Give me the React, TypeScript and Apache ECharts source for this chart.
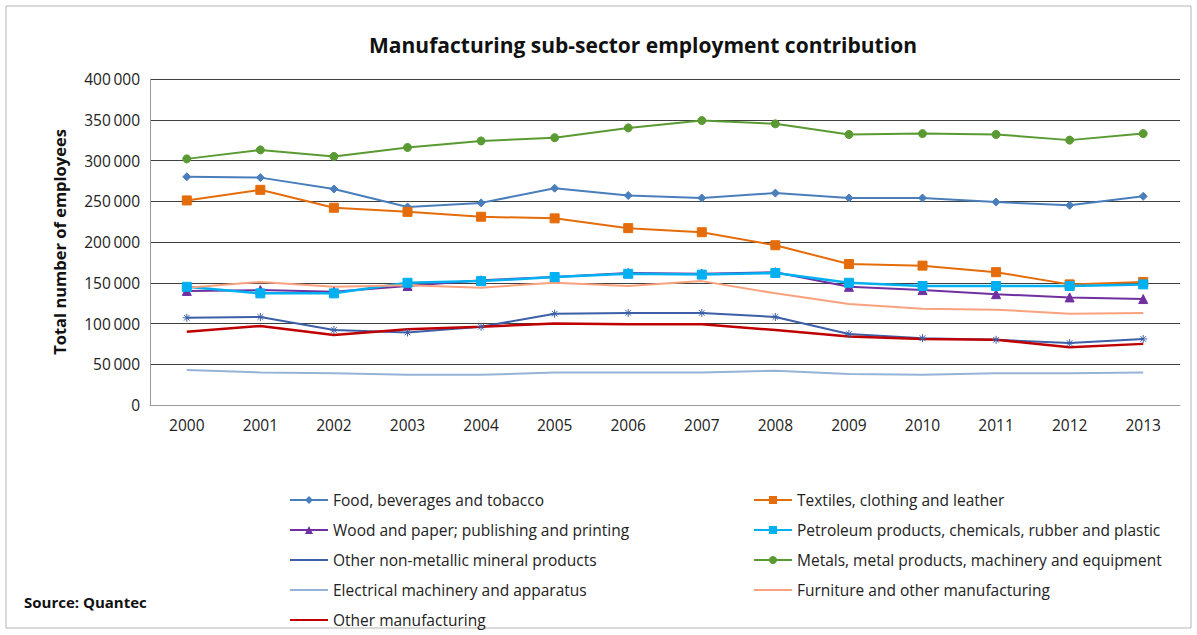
import React, { useEffect, useRef } from "react";
import * as echarts from "echarts";

const years = ["2000","2001","2002","2003","2004","2005","2006","2007","2008","2009","2010","2011","2012","2013"];
const yTicks = [0, 50000, 100000, 150000, 200000, 250000, 300000, 350000, 400000];

const food = [280000, 279000, 265000, 243000, 248000, 266000, 257000, 254000, 260000, 254000, 254000, 249000, 245000, 256000];
const textiles = [251000, 264000, 242000, 237000, 231000, 229000, 217000, 212000, 196000, 173000, 171000, 163000, 148000, 151000];
const wood = [140000, 141000, 139000, 146000, 153000, 157000, 162000, 161000, 163000, 145000, 141000, 136000, 132000, 130000];
const petroleum = [145000, 137000, 137000, 150000, 152000, 157000, 161000, 160000, 162000, 150000, 146000, 146000, 146000, 148000];
const nonMetallic = [107000, 108000, 92000, 89000, 96000, 112000, 113000, 113000, 108000, 87000, 82000, 80000, 76000, 81000];
const metals = [302000, 313000, 305000, 316000, 324000, 328000, 340000, 349000, 345000, 332000, 333000, 332000, 325000, 333000];
const electrical = [43000, 40000, 39000, 37000, 37000, 40000, 40000, 40000, 42000, 38000, 37000, 39000, 39000, 40000];
const furniture = [144000, 151000, 145000, 147000, 144000, 150000, 146000, 152000, 137000, 124000, 118000, 117000, 112000, 113000];
const otherMfg = [90000, 97000, 86000, 93000, 96000, 100000, 99000, 99000, 92000, 84000, 81000, 80000, 71000, 75000];

const names = {
  food: "Food, beverages and tobacco",
  textiles: "Textiles, clothing and leather",
  wood: "Wood and paper; publishing and printing",
  petroleum: "Petroleum products, chemicals, rubber and plastic",
  nonMetallic: "Other non-metallic mineral products",
  metals: "Metals, metal products, machinery and equipment",
  electrical: "Electrical machinery and apparatus",
  furniture: "Furniture and other manufacturing",
  otherMfg: "Other manufacturing",
};

const FONT = "'Open Sans', 'Noto Sans', sans-serif";

function fmt(v: number) {
  if (v === 0) return "0";
  const s = String(v);
  return s.slice(0, s.length - 3) + "\u2009" + s.slice(s.length - 3);
}

const starPath = "path://M0,-10 L0,10 M-10,0 L10,0 M-7,-7 L7,7 M-7,7 L7,-7";

export default function App() {
  const ref = useRef<HTMLDivElement>(null);
  useEffect(() => {
    const chart = echarts.init(ref.current!, null, { renderer: "svg" });
    const mk = (name: string, data: number[], color: string, symbol: string, size: number, width: number, show = true) => ({
      name,
      type: "line",
      data,
      symbol,
      symbolSize: size,
      showSymbol: show,
      lineStyle: { color, width },
      itemStyle: { color, borderColor: color },
      emphasis: { disabled: true },
    });
    const legendText = { fontFamily: FONT, fontSize: 15.5, color: "#222" };
    chart.setOption({
      animation: false,
      backgroundColor: "#ffffff",
      title: {
        text: "Manufacturing sub-sector employment contribution",
        left: 638,
        textAlign: "center",
        top: 29,
        textStyle: { fontFamily: FONT, fontSize: 21, fontWeight: "bold", color: "#111" },
      },
      grid: { left: 150, right: 17, top: 79, bottom: 230 },
      legend: [
        {
          left: 284,
          top: 487,
          orient: "vertical",
          itemGap: 14,
          itemWidth: 38,
          itemHeight: 10,
          textStyle: legendText,
          data: [names.food, names.wood, names.nonMetallic, names.electrical, names.otherMfg],
        },
        {
          left: 748,
          top: 487,
          orient: "vertical",
          itemGap: 14,
          itemWidth: 38,
          itemHeight: 10,
          textStyle: legendText,
          data: [names.textiles, names.petroleum, names.metals, names.furniture],
        },
      ],
      xAxis: {
        type: "category",
        data: years,
        boundaryGap: true,
        axisLine: { lineStyle: { color: "#9a9a9a" } },
        axisTick: { alignWithLabel: true, lineStyle: { color: "#9a9a9a" } },
        axisLabel: { fontFamily: FONT, fontSize: 15.5, color: "#222", margin: 12 },
      },
      yAxis: {
        type: "value",
        min: yTicks[0],
        max: yTicks[yTicks.length - 1],
        interval: 50000,
        name: "Total number of employees",
        nameLocation: "middle",
        nameGap: 82,
        nameRotate: 90,
        nameTextStyle: { fontFamily: FONT, fontSize: 16.5, fontWeight: "bold", color: "#111" },
        axisLine: { show: true, lineStyle: { color: "#9a9a9a" } },
        axisTick: { show: false },
        axisLabel: { fontFamily: FONT, fontSize: 15.5, color: "#222", margin: 10, formatter: (v: number) => fmt(v) },
        splitLine: { lineStyle: { color: "#3f3f3f", width: 1 } },
      },
      graphic: [
        {
          type: "rect",
          shape: { x: 6, y: 6, width: 1185, height: 622 },
          style: { fill: "none", stroke: "#b5b5b5", lineWidth: 1 },
          silent: true,
        },
        {
          type: "text",
          left: 24,
          top: 594,
          style: { text: "Source: Quantec", fontFamily: FONT, fontSize: 15, fontWeight: "bold", fill: "#111" },
        },
      ],
      series: [
        mk(names.food, food, "#4A7EBB", "diamond", 8, 2),
        mk(names.textiles, textiles, "#E46C0A", "rect", 9, 2),
        mk(names.wood, wood, "#7030A0", "triangle", 9, 2),
        mk(names.petroleum, petroleum, "#00B0F0", "rect", 9, 2.5),
        mk(names.nonMetallic, nonMetallic, "#3C5FA8", starPath, 8, 2),
        mk(names.metals, metals, "#5A9A32", "circle", 8, 2),
        mk(names.electrical, electrical, "#95B3D7", "line", 6, 2, false),
        mk(names.furniture, furniture, "#F9A27E", "line", 6, 2, false),
        mk(names.otherMfg, otherMfg, "#C00000", "line", 6, 2.5, false),
      ],
    });
    return () => chart.dispose();
  }, []);
  return <div ref={ref} style={{ position: "fixed", left: 0, top: 0, width: 1197, height: 635 }} />;
}
